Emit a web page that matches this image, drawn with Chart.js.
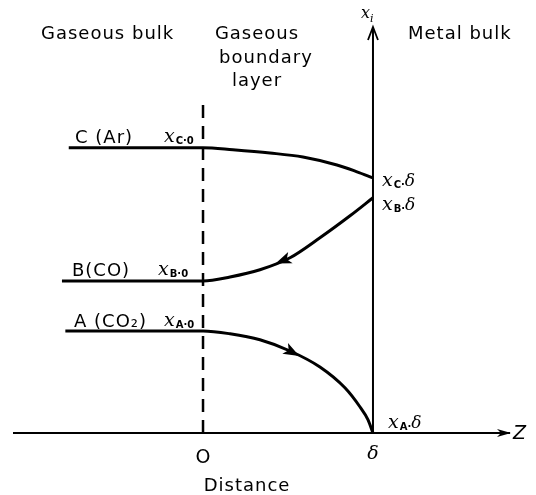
<!DOCTYPE html>
<html lang="en">
<head>
<meta charset="UTF-8" />
<title>Concentration profiles across the gaseous boundary layer</title>
<script src="https://cdn.jsdelivr.net/npm/chart.js"></script>
<style>
  html, body { margin: 0; padding: 0; background: #fff; }
  canvas { display: block; }
</style>
</head>
<body>
<canvas id="chart" width="536" height="495"></canvas>
<script>
// distance: 0 = outer edge of boundary layer, 1 = delta (metal surface)
// mole fraction scaled 0..1 on the x_i axis
const xC = [-0.79, 0, 0.176, 0.394, 0.588, 0.788, 0.906, 1];
const yC = [0.713, 0.713, 0.708, 0.700, 0.690, 0.670, 0.653, 0.638];
const xB = [-0.83, 0, 0.159, 0.335, 0.512, 0.688, 0.865, 1];
const yB = [0.380, 0.380, 0.390, 0.408, 0.438, 0.488, 0.543, 0.588];
const xA = [-0.81, 0, 0.159, 0.335, 0.512, 0.688, 0.835, 0.924, 0.971, 1];
const yA = [0.255, 0.255, 0.248, 0.233, 0.205, 0.165, 0.113, 0.065, 0.033, 0];
const seriesNames = ['C (Ar)', 'B(CO)', 'A (CO₂)'];
const tickLabels = ['O', 'δ'];

const pts = (xs, ys) => xs.map((x, i) => ({ x, y: ys[i] }));
const FONT = "'DejaVu Sans', sans-serif";

function drawParts(ctx, x, y, parts) {
  let cx = x;
  parts.forEach(p => {
    ctx.font = p.font;
    ctx.fillText(p.t, cx, y + (p.dy || 0));
    cx += ctx.measureText(p.t).width + (p.gap || 0);
  });
}
function conc(ctx, x, y, sub, end) {
  const parts = [{ t: 'x', font: "italic 19px 'DejaVu Serif', serif", gap: 1 }];
  parts.push({ t: sub, font: "bold 10px " + FONT, dy: 2 });
  if (end === 'δ') parts.push({ t: '·', font: "bold 10px " + FONT, dy: 2 },
                              { t: 'δ', font: "italic 17px 'DejaVu Serif', serif" });
  else parts.push({ t: '·0', font: "bold 10px " + FONT, dy: 2 });
  drawParts(ctx, x, y, parts);
}

// arrowhead placed along a drawn dataset at distance value xv
function curveArrow(chart, idx, xv, dir) {
  const ctx = chart.ctx;
  const el = chart.getDatasetMeta(idx).data;
  const xs = chart.data.datasets[idx].data.map(p => p.x);
  let k = 0;
  while (k < xs.length - 2 && xs[k + 1] < xv) k++;
  const f = (xv - xs[k]) / (xs[k + 1] - xs[k]);
  const px = el[k].x + f * (el[k + 1].x - el[k].x);
  const py = el[k].y + f * (el[k + 1].y - el[k].y);
  let ang = Math.atan2(el[k + 1].y - el[k].y, el[k + 1].x - el[k].x);
  if (dir < 0) ang += Math.PI;
  ctx.save();
  ctx.translate(px, py);
  ctx.rotate(ang);
  ctx.beginPath();
  ctx.moveTo(7, 0);
  ctx.lineTo(-9, -6);
  ctx.lineTo(-5, 0);
  ctx.lineTo(-9, 6);
  ctx.closePath();
  ctx.fill();
  ctx.restore();
}

const diagram = {
  id: 'diagram',
  beforeDatasetsDraw(chart) {
    const { ctx, scales: { x, y } } = chart;
    const x0 = x.getPixelForValue(0), xd = x.getPixelForValue(1), yb = y.getPixelForValue(0);
    ctx.save();
    ctx.strokeStyle = '#000';
    ctx.fillStyle = '#000';
    // horizontal axis
    ctx.lineWidth = 2;
    ctx.beginPath();
    ctx.moveTo(x.left, yb);
    ctx.lineTo(510, yb);
    ctx.stroke();
    ctx.beginPath();
    ctx.moveTo(497, yb - 4);
    ctx.lineTo(511, yb);
    ctx.lineTo(497, yb + 4);
    ctx.lineTo(501, yb);
    ctx.closePath();
    ctx.fill();
    // vertical axis at delta
    const yt = y.getPixelForValue(1.015);
    ctx.beginPath();
    ctx.moveTo(xd, yb);
    ctx.lineTo(xd, yt);
    ctx.stroke();
    ctx.lineWidth = 1.8;
    ctx.beginPath();
    ctx.moveTo(xd - 5, yt + 13);
    ctx.lineTo(xd, yt);
    ctx.lineTo(xd + 5, yt + 13);
    ctx.stroke();
    // dashed boundary at 0
    ctx.lineWidth = 2.5;
    ctx.setLineDash([13, 8]);
    ctx.beginPath();
    ctx.moveTo(x0, yb);
    ctx.lineTo(x0, y.getPixelForValue(0.83));
    ctx.stroke();
    ctx.restore();
  },
  afterDraw(chart) {
    const { ctx, scales: { x, y } } = chart;
    const x0 = x.getPixelForValue(0), xd = x.getPixelForValue(1), yb = y.getPixelForValue(0);
    ctx.save();
    ctx.fillStyle = '#000';
    ctx.textBaseline = 'alphabetic';
    if ('letterSpacing' in ctx) ctx.letterSpacing = '1px';
    ctx.font = '18px ' + FONT;
    ctx.textAlign = 'left';
    ctx.fillText('Gaseous bulk', 41, 39);
    ctx.fillText('Metal bulk', 408, 39);
    ctx.textAlign = 'center';
    ctx.fillText('Gaseous', 257, 39);
    ctx.fillText('boundary', 266, 63);
    ctx.fillText('layer', 257, 86);
    // series names at the bulk level
    ctx.textAlign = 'left';
    ctx.fillText(seriesNames[0], 75, y.getPixelForValue(yC[0]) - 5);
    ctx.fillText(seriesNames[1], 72, y.getPixelForValue(yB[0]) - 5);
    ctx.fillText(seriesNames[2], 74, y.getPixelForValue(yA[0]) - 4);
    if ('letterSpacing' in ctx) ctx.letterSpacing = '0px';
    conc(ctx, 164, y.getPixelForValue(yC[0]) - 6, 'C', '0');
    conc(ctx, 158, y.getPixelForValue(yB[0]) - 6, 'B', '0');
    conc(ctx, 164, y.getPixelForValue(yA[0]) - 5, 'A', '0');
    conc(ctx, xd + 9, y.getPixelForValue(yC[yC.length - 1]) + 8, 'C', 'δ');
    conc(ctx, xd + 9, y.getPixelForValue(yB[yB.length - 1]) + 12, 'B', 'δ');
    conc(ctx, xd + 15, yb - 5, 'A', 'δ');
    // axis ticks and titles
    ctx.textAlign = 'center';
    ctx.font = '19px ' + FONT;
    ctx.fillText(tickLabels[0], x0, yb + 30);
    ctx.font = "italic 19px 'DejaVu Serif', serif";
    ctx.fillText(tickLabels[1], xd, yb + 26);
    ctx.font = '18px ' + FONT;
    if ('letterSpacing' in ctx) ctx.letterSpacing = '1px';
    ctx.fillText('Distance', 247, 491);
    if ('letterSpacing' in ctx) ctx.letterSpacing = '0px';
    ctx.textAlign = 'left';
    ctx.font = "italic 19px 'DejaVu Sans', sans-serif";
    ctx.fillText('Z', 513, yb + 6);
    drawParts(ctx, 361, 18, [
      { t: 'x', font: "italic 16px 'DejaVu Serif', serif", gap: 0 },
      { t: 'i', font: "italic 11px 'DejaVu Serif', serif", dy: 4 }
    ]);
    // flow direction arrows
    curveArrow(chart, 1, 0.465, -1);
    curveArrow(chart, 2, 0.53, 1);
    ctx.restore();
  }
};

const lineStyle = { borderColor: '#000', borderWidth: 3, pointRadius: 0,
  cubicInterpolationMode: 'monotone', clip: false, fill: false };

new Chart(document.getElementById('chart'), {
  type: 'line',
  data: {
    datasets: [
      { label: seriesNames[0], data: pts(xC, yC), ...lineStyle },
      { label: seriesNames[1], data: pts(xB, yB), ...lineStyle },
      { label: seriesNames[2], data: pts(xA, yA), ...lineStyle }
    ]
  },
  options: {
    responsive: false,
    animation: false,
    layout: { padding: { left: 13, right: 33, top: 33, bottom: 62 } },
    plugins: { legend: { display: false }, tooltip: { enabled: false } },
    scales: {
      x: { type: 'linear', min: -1.118, max: 1.765, display: false },
      y: { type: 'linear', min: 0, max: 1, display: false }
    }
  },
  plugins: [diagram]
});
</script>
</body>
</html>
